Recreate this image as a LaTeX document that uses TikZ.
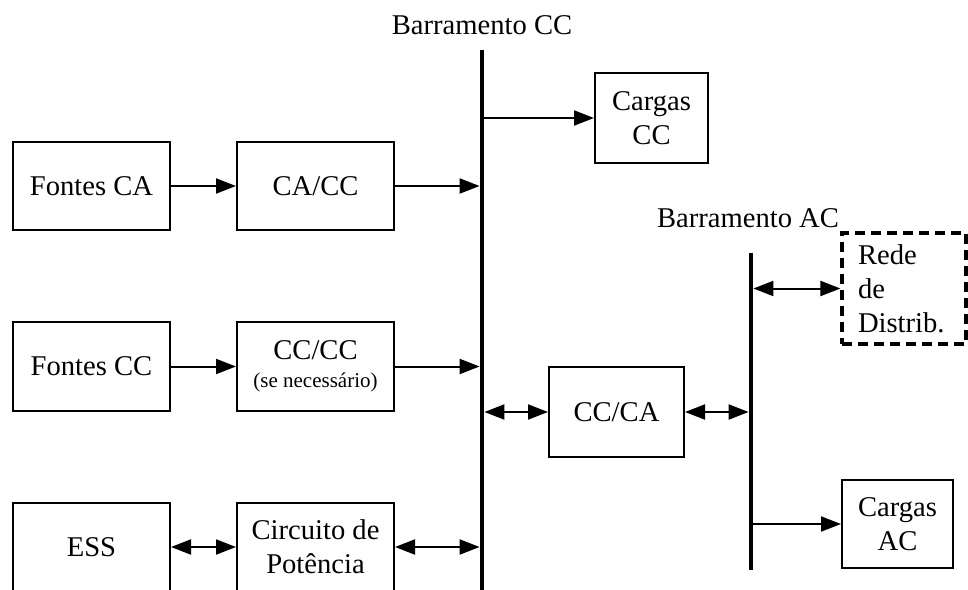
\documentclass[tikz,border=0pt]{standalone}
\usepackage{fontspec}
\setmainfont{Liberation Serif}
\usetikzlibrary{arrows.meta}
\tikzset{
  blk/.style={draw, line width=1pt, inner sep=0pt, align=center, font=\fontsize{14.3}{17}\selectfont},
  arr/.style={line width=1pt, -{Triangle[length=10pt,width=7.5pt]}},
  darr/.style={line width=1pt, {Triangle[length=10pt,width=7.5pt]}-{Triangle[length=10pt,width=7.5pt]}},
  bus/.style={line width=2.4pt},
  lbl/.style={font=\fontsize{14.3}{17}\selectfont, inner sep=0pt}
}
\begin{document}
\begin{tikzpicture}[x=0.5pt,y=-0.5pt]
\useasboundingbox (0,0) rectangle (968,589);
\clip (0,0) rectangle (968,589);
% buses
\coordinate (ccTop) at (482,50);
\coordinate (ccBot) at (482,600);
\coordinate (acTop) at (751,253);
\coordinate (acBot) at (751,570);
\draw[bus] (ccTop) -- (ccBot);
\draw[bus] (acTop) -- (acBot);
\node[lbl] (lblcc) at (482,25) {Barramento CC};
\node[lbl] (lblac) at (748,218) {Barramento AC};
% blocks
\node[blk, minimum width=78.5pt, minimum height=44pt] (fca) at (91.5,186) {Fontes CA};
\node[blk, minimum width=78.5pt, minimum height=44pt] (cacc) at (315.5,186) {CA/CC};
\node[blk, minimum width=78.5pt, minimum height=44.5pt] (fcc) at (91.5,366.5) {Fontes CC};
\node[blk, minimum width=78.5pt, minimum height=44.5pt] (cccc) at (315.5,366.5) {CC/CC\\[-3pt]{\fontsize{10.5}{12}\selectfont (se necessário)}};
\node[blk, minimum width=78.5pt, minimum height=44pt] (ess) at (91.5,547) {ESS};
\node[blk, minimum width=78.5pt, minimum height=44pt] (circ) at (315.5,547) {Circuito de\\Potência};
\node[blk, minimum width=56.5pt, minimum height=45pt] (cargcc) at (651.5,118) {Cargas\\CC};
\node[blk, minimum width=67.5pt, minimum height=45pt] (ccca) at (616.5,412) {CC/CA};
\node[blk, dashed, dash pattern=on 5pt off 3pt, line width=1.6pt, minimum width=62pt, minimum height=55.5pt, align=left, text width=46pt] (rede) at (904,288.5) {Rede\\de\\Distrib.};
\node[blk, minimum width=55.5pt, minimum height=44pt] (cargac) at (897.5,524) {Cargas\\AC};
% connectors
\draw[arr] (fca) -- (cacc);
\draw[arr] (fcc) -- (cccc);
\draw[darr] (ess) -- (circ);
\draw[arr, shorten >=1.2pt] (cacc.east) -- (cacc.east -| ccTop);
\draw[arr, shorten >=1.2pt] (cccc.east) -- (cccc.east -| ccTop);
\draw[darr, shorten >=1.2pt] (circ.east) -- (circ.east -| ccTop);
\draw[arr] (cargcc.west -| ccTop) -- (cargcc.west);
\draw[darr, shorten <=1.2pt] (ccca.west -| ccTop) -- (ccca.west);
\draw[darr, shorten >=1.2pt] (ccca.east) -- (ccca.east -| acTop);
\draw[darr, shorten <=1.2pt] (rede.west -| acTop) -- (rede.west);
\draw[arr] (cargac.west -| acTop) -- (cargac.west);
\end{tikzpicture}
\end{document}
